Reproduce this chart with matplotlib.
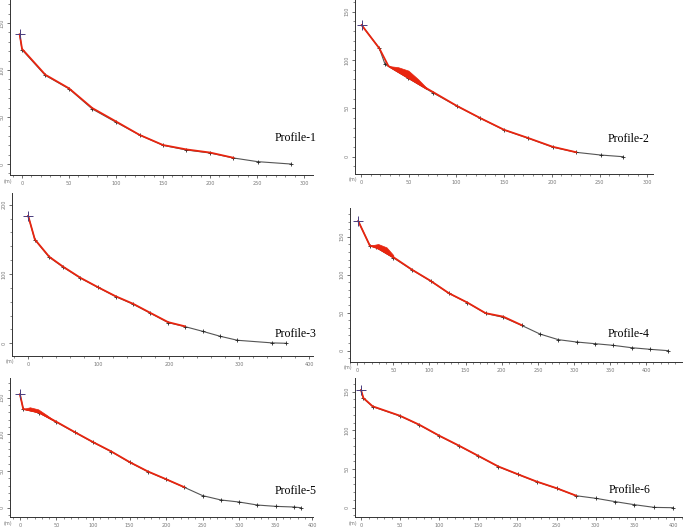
import matplotlib
matplotlib.use("Agg")
import matplotlib.pyplot as plt
import numpy as np
from matplotlib.ticker import MultipleLocator

# ---- profile data (distance m, elevation m) ----
p1_x = [-2.5, 0, 24.8, 50, 74.8, 99.6, 125, 150, 175, 200, 225, 250.7, 285.8]
p1_y = [138, 121.6, 94.3, 80, 58.5, 44.7, 30.9, 19.9, 14.9, 11.7, 6.4, 2.5, 0]
p1_rx = [-2.5, 0, 24.8, 50, 74.8, 99.6, 125, 150, 175, 200, 225]
p1_ry = [138, 122.5, 95, 80.5, 59.5, 45.5, 31, 20.2, 15.5, 12.2, 6.6]

p2_x = [0.7, 19.2, 25.2, 49.7, 75.2, 100.3, 125.2, 150, 175.5, 200.7, 225.5, 251.4, 274.5]
p2_y = [136, 112, 95.5, 81, 66.2, 52.4, 39.7, 27.6, 19, 10, 4.5, 1.7, 0]
p2_rx = [0.7, 19.2, 28.7, 49.7, 75.2, 100.3, 125.2, 150, 175.5, 200.7, 225.5]
p2_ry = [136, 112, 93.8, 81.5, 67, 52.6, 39.8, 27.8, 19.2, 10.3, 4.6]
p2_bx = [28.7, 39, 49.7, 60, 68.9]
p2_bup = [93.8, 92.5, 89, 80, 71]
p2_blo = [93.5, 87.4, 81.2, 75, 69.7]

p3_x = [0, 9.5, 29.9, 49.8, 74.4, 98.6, 124.2, 149.3, 173.9, 199, 222.7, 247.9, 273, 297.6, 347.4, 365.9]
p3_y = [184, 149.4, 124.3, 109.9, 94, 81, 67.5, 56.4, 43.4, 29.9, 24.1, 17.3, 10.1, 4.3, 0.5, 0]
p3_rx = [0, 9.5, 29.9, 49.8, 74.4, 98.6, 124.2, 149.3, 173.9, 199, 222.7]
p3_ry = [184, 150, 125, 110.5, 94.5, 81.3, 68, 57, 43.8, 30.5, 24.5]

p4_x = [1.4, 17.5, 25.9, 49.9, 76.2, 101.6, 127, 152.4, 177.7, 202.2, 227.6, 253, 278.4,
        303.8, 329.2, 354.6, 380, 405.4, 430.8]
p4_y = [170.6, 138.2, 136, 122.4, 106.1, 91.7, 75.4, 63.2, 49.1, 43.9, 33.3, 21.9, 14.5,
        11.4, 9.2, 7, 3.9, 1.8, 0]
p4_rx = [1.4, 17.5, 25.9, 49.9, 76.2, 101.6, 127, 152.4, 177.7, 202.2, 227.6]
p4_ry = [170.6, 138.2, 136.5, 123.2, 106.4, 91.9, 75.6, 63.4, 49.4, 44.8, 33.6]
p4_bx = [17.5, 29, 40.6, 49.9]
p4_bup = [138.2, 140.4, 136, 125.9]
p4_blo = [138.2, 134.2, 127.7, 122.4]

p5_x = [0, 4.5, 25.9, 50, 75, 100, 125, 150, 175, 200, 225, 250, 275, 300, 325, 350, 375, 384]
p5_y = [154.5, 134.5, 129.5, 116.4, 102.7, 89.1, 76.4, 61.8, 49.1, 38.6, 27.7, 16.4, 10.5,
        7.7, 3.6, 1.8, 0.9, 0]
p5_rx = [0, 4.5, 25.9, 50, 75, 100, 125, 150, 175, 200, 225]
p5_ry = [154.5, 134.5, 130, 117, 103, 89.4, 76.6, 62.2, 49.4, 38.8, 27.9]
p5_bx = [4.5, 13.6, 25, 36.4, 50]
p5_bup = [134.5, 136.8, 134, 126.4, 116.4]
p5_blo = [134.5, 132.4, 129.7, 123.8, 116.4]

p6_x = [0, 3, 14.9, 49.9, 74.6, 100.2, 125.7, 150, 175.6, 200.4, 224.6, 250.2, 275, 300.5,
        325.3, 349.6, 375.1, 399.4]
p6_y = [152, 141.4, 130.6, 118.5, 106.9, 92.7, 79.7, 66.8, 53, 43.1, 33.6, 25, 15.5, 12.1,
        7.8, 3.9, 0.4, 0]
p6_rx = [0, 3, 14.9, 49.9, 74.6, 100.2, 125.7, 150, 175.6, 200.4, 224.6, 250.2, 275]
p6_ry = [152, 141.8, 131, 118.8, 107.2, 93, 80, 67, 53.3, 43.3, 33.8, 25.2, 15.6]

profiles = [
    ("Profile-1", p1_x, p1_y, p1_rx, p1_ry, None, [0, 50, 100, 150], [0, 50, 100, 150, 200, 250, 300]),
    ("Profile-2", p2_x, p2_y, p2_rx, p2_ry, (p2_bx, p2_bup, p2_blo), [0, 50, 100, 150], [0, 50, 100, 150, 200, 250, 300]),
    ("Profile-3", p3_x, p3_y, p3_rx, p3_ry, None, [0, 100, 200], [0, 100, 200, 300, 400]),
    ("Profile-4", p4_x, p4_y, p4_rx, p4_ry, (p4_bx, p4_bup, p4_blo), [0, 50, 100, 150], [0, 50, 100, 150, 200, 250, 300, 350, 400]),
    ("Profile-5", p5_x, p5_y, p5_rx, p5_ry, (p5_bx, p5_bup, p5_blo), [0, 50, 100, 150], [0, 50, 100, 150, 200, 250, 300, 350, 400]),
    ("Profile-6", p6_x, p6_y, p6_rx, p6_ry, None, [0, 50, 100, 150], [0, 50, 100, 150, 200, 250, 300, 350, 400]),
]

# layout in pixels: left, top, right, bottom of axes; xlim, ylim; label position
W, H = 685, 527
layout = [
    ((10, 0, 313, 175), (-12.8, 309.6), (-11.7, 174.5), (275, 138), 10),
    ((355, 0, 653, 174), (-6.3, 306), (-17.9, 162), (608, 139), 10),
    ((12, 193, 313, 356), (-23, 405), (-18.4, 217), (275, 334), 20),
    ((350, 208, 682, 362), (-10, 449.6), (-14.9, 187.8), (608, 334), 10),
    ((10, 378, 313, 517), (-13.6, 401), (-12.7, 176.7), (275, 491), 10),
    ((355, 378, 682, 517), (-7.7, 410.5), (-12, 167.6), (609, 490), 10),
]

fig = plt.figure(figsize=(W / 100, H / 100), dpi=100)

for (name, x, y, rx, ry, bulge, yt, xt), (box, xl, yl, lab, minor) in zip(profiles, layout):
    l, t, r, b = box
    ax = fig.add_axes([l / W, 1 - b / H, (r - l) / W, (b - t) / H])
    ax.plot(x, y, color="#555555", lw=0.8, marker="+", ms=2.5, mew=0.6, mec="#222222", zorder=2)
    ax.plot(rx, ry, color="#e8250f", lw=1.3, zorder=3)
    if bulge is not None:
        bx, bup, blo = bulge
        ax.fill_between(bx, blo, bup, color="#e8250f", lw=0.5, zorder=3)
    ax.plot(x[0], y[0], marker="+", ms=7, mew=0.7, color="#4a3d7e", zorder=4)

    ax.set_xlim(*xl)
    ax.set_ylim(*yl)
    ax.set_xticks(xt)
    ax.set_yticks(yt)
    ax.xaxis.set_minor_locator(MultipleLocator(minor))
    ax.yaxis.set_minor_locator(MultipleLocator(minor))
    ax.tick_params(which="major", length=2.5, width=0.5, color="#333333",
                   labelsize=3.5, labelcolor="#777777", pad=1.5)
    ax.tick_params(which="minor", length=1.5, width=0.4, color="#333333")
    for lbl in ax.get_yticklabels():
        lbl.set_rotation(90)
        lbl.set_va("center")
    for s in ["top", "right"]:
        ax.spines[s].set_visible(False)
    for s in ["left", "bottom"]:
        ax.spines[s].set_linewidth(0.7)
        ax.spines[s].set_color("#333333")
    ax.patch.set_alpha(0)

    fig.text((l - 6) / W, 1 - (b + 6) / H, "(m)", fontsize=3.5, color="#777777",
             ha="left", va="center")
    fig.text(lab[0] / W, 1 - lab[1] / H, name, fontsize=8.5, family="Liberation Serif",
             ha="left", va="center")

fig.savefig("out.png", dpi=100)
